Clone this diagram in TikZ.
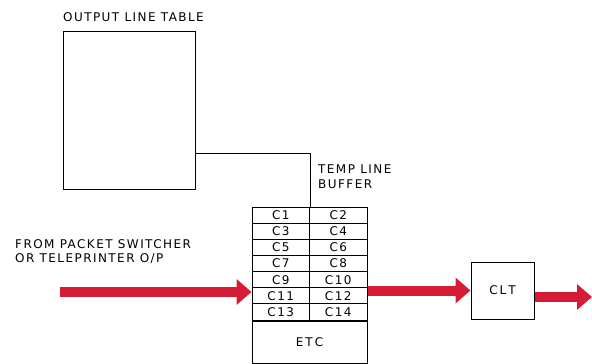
\documentclass[tikz,border=0pt]{standalone}
\usepackage{fontspec}
\setmainfont{DejaVu Sans}[LetterSpace=12]
\usepackage{tikz}
\usetikzlibrary{arrows.meta,positioning,calc}
\definecolor{flowred}{RGB}{214,28,52}

\begin{document}
\begin{tikzpicture}[x=1pt,y=-1pt,
    box/.style={draw,line width=1pt,inner sep=0pt},
    cell/.style={box,minimum width=57.5pt,minimum height=16.15pt},
    lbl/.style={font=\fontsize{12}{14.5}\selectfont,inner sep=0pt},
    flow/.style={flowred,line width=10pt,-{Triangle[length=15pt,width=25pt]}}]
  \useasboundingbox (0,0) rectangle (592,364);
  % output line table
  \node[box,minimum width=132pt,minimum height=158pt] (table) at (129,110) {};
  \node[lbl,anchor=south west] (tabletxt) at (63,22) {OUTPUT LINE TABLE};
  % temp line buffer: 7 rows of two cells
  \foreach \r in {0,...,6}{
    \pgfmathtruncatemacro{\ca}{2*\r+1}
    \pgfmathtruncatemacro{\cb}{2*\r+2}
    \node[cell,lbl] (c\ca) at (280.75,{215.1+\r*16.15}) {C\ca};
    \node[cell,lbl] (c\cb) at (338.25,{215.1+\r*16.15}) {C\cb};
  }
  \node[box,lbl,minimum width=115pt,minimum height=42pt,anchor=north west] (etc) at (c13.south west) {E\,T\,C};
  \node[lbl,anchor=north west,align=left] (buftxt) at (318,165) {TEMP LINE\\BUFFER};
  \draw[line width=1pt] ([yshift=36pt]table.south east) -| (c1.north east);
  % input side
  \node[lbl,anchor=north west,align=left] (fromtxt) at (15,239) {FROM PACKET SWITCHER\\OR TELEPRINTER O/P};
  \coordinate (src) at (60,292);
  \draw[flow] (src) -- (src -| c11.west);
  % CLT
  \node[box,lbl,minimum width=63pt,minimum height=57pt] (clt) at (502.5,290.5) {C\,L\,T};
  \coordinate (sink) at (592,297);
  \draw[flow] (c12.east |- clt.west) -- (clt.west);
  \draw[flow] (clt.east |- sink) -- (sink);
\end{tikzpicture}
\end{document}
